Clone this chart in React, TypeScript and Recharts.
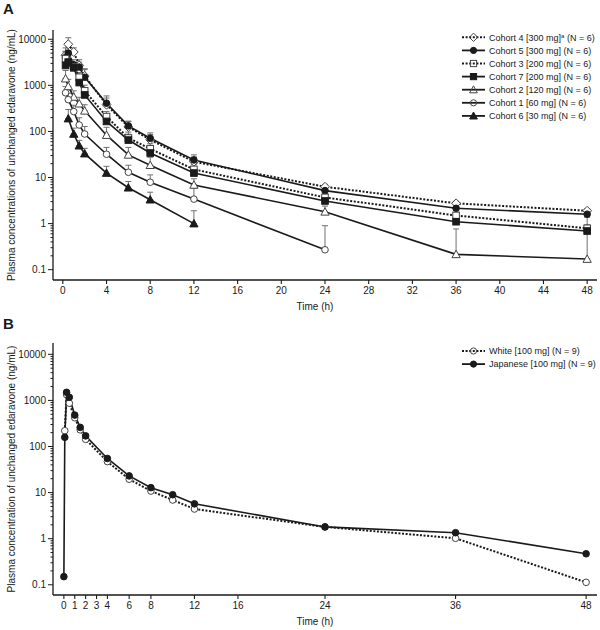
import React from 'react';
import { LineChart, Line, XAxis, YAxis, ErrorBar, Customized } from 'recharts';

const FONT = '"Liberation Sans", Arial, Helvetica, sans-serif';
const INK = '#1a1a1a';
const GREY = '#707070';

// ---- Panel A: dose cohorts, mean + upper SD (ng/mL)
const c4Times = [0.25, 0.5, 1, 1.5, 2, 4, 6, 8, 12, 24, 36, 48];
const c4Mean = [4500, 7800, 5300, 2700, 1600, 380, 125, 66, 22, 6.3, 2.75, 1.9];
const c4Sd = [2000, 3000, 1200, 900, 600, 150, 40, 20, 6, 0.8, 0.3, 0.2];

const c5Times = [0.25, 0.5, 1, 1.5, 2, 4, 6, 8, 12, 24, 36, 48];
const c5Mean = [4000, 5000, 2800, 2500, 1500, 410, 132, 71, 24, 5.2, 2.15, 1.6];
const c5Sd = [1500, 2000, 800, 700, 800, 180, 35, 22, 7, 1.5, 0.5, 0.4];

const c3Times = [0.25, 0.5, 1, 1.5, 2, 4, 6, 8, 12, 24, 36, 48];
const c3Mean = [3800, 3000, 2500, 1500, 760, 210, 72, 42, 15, 3.7, 1.5, 0.79];
const c3Sd = [1500, 1000, 600, 400, 250, 60, 25, 12, 4, 0.8, 0.4, 0.15];

const c7Times = [0.25, 0.5, 1, 1.5, 2, 4, 6, 8, 12, 24, 36, 48];
const c7Mean = [2700, 3200, 2400, 1150, 620, 165, 65, 34, 12.5, 3.1, 1.1, 0.69];
const c7Sd = [1000, 1200, 500, 400, 250, 60, 22, 10, 4, 0.7, 0.3, 0.2];

const c2Times = [0.25, 0.5, 1, 1.5, 2, 4, 6, 8, 12, 24, 36, 48];
const c2Mean = [1400, 950, 560, 400, 280, 83, 31, 18.5, 6.9, 1.8, 0.215, 0.17];
const c2Sd = [700, 400, 200, 150, 100, 40, 14, 9, 2.5, 0.6, 0.55, 1.2];

const c1Times = [0.25, 0.5, 1, 1.5, 2, 4, 6, 8, 12, 24];
const c1Mean = [690, 490, 270, 138, 88, 32, 13, 7.9, 3.4, 0.27];
const c1Sd = [250, 180, 100, 60, 40, 13, 5.5, 3.5, 2.5, 0.63];

const c6Times = [0.5, 1, 1.5, 2, 4, 6, 8, 12];
const c6Mean = [190, 88, 49, 33, 12.5, 6.0, 3.3, 1.0];
const c6Sd = [110, 30, 15, 10, 5, 2.2, 1.5, 0.9];

// ---- Panel B: ethnicity comparison (mean, ng/mL)
const whiteTimes = [0.083, 0.25, 0.5, 1, 1.5, 2, 4, 6, 8, 10, 12, 24, 36, 48];
const whiteMean = [220, 1330, 870, 420, 230, 143, 47, 19.5, 10.8, 6.9, 4.4, 1.8, 1.02, 0.113];
const japTimes = [0, 0.083, 0.25, 0.5, 1, 1.5, 2, 4, 6, 8, 10, 12, 24, 36, 48];
const japMean = [0.15, 158, 1500, 1170, 480, 260, 170, 55, 23, 12.8, 9.0, 5.7, 1.8, 1.35, 0.47];

const xTicksA = [0, 4, 8, 12, 16, 20, 24, 28, 32, 36, 40, 44, 48];
const xTicksB = [0, 1, 2, 3, 4, 6, 8, 12, 16, 24, 36, 48];
const yMajor = [0.1, 1, 10, 100, 1000, 10000];
const yMinor = yMajor
  .slice(0, -1)
  .flatMap((d) => [2, 3, 4, 5, 6, 7, 8, 9].map((m) => +(m * d).toPrecision(2)));
const yTicks = [...yMajor, ...yMinor].sort((a, b) => a - b);

const build = (ts: number[], vs: number[], sds?: number[]) =>
  ts.map((t, i) => ({ t, v: vs[i], err: sds ? [0, sds[i]] : undefined }));

type Shape = 'circle' | 'square' | 'triangle' | 'diamond';

interface SeriesDef {
  name: string;
  sup?: string;
  rest?: string;
  data: { t: number; v: number; err?: number[] }[];
  shape: Shape;
  open: boolean;
  dashed: boolean;
}

const seriesA: SeriesDef[] = [
  { name: 'Cohort 4 [300 mg]', sup: 'a', rest: ' (N = 6)', data: build(c4Times, c4Mean, c4Sd), shape: 'diamond', open: true, dashed: true },
  { name: 'Cohort 5 [300 mg] (N = 6)', data: build(c5Times, c5Mean, c5Sd), shape: 'circle', open: false, dashed: false },
  { name: 'Cohort 3 [200 mg] (N = 6)', data: build(c3Times, c3Mean, c3Sd), shape: 'square', open: true, dashed: true },
  { name: 'Cohort 7 [200 mg] (N = 6)', data: build(c7Times, c7Mean, c7Sd), shape: 'square', open: false, dashed: false },
  { name: 'Cohort 2 [120 mg] (N = 6)', data: build(c2Times, c2Mean, c2Sd), shape: 'triangle', open: true, dashed: false },
  { name: 'Cohort 1 [60 mg] (N = 6)', data: build(c1Times, c1Mean, c1Sd), shape: 'circle', open: true, dashed: false },
  { name: 'Cohort 6 [30 mg] (N = 6)', data: build(c6Times, c6Mean, c6Sd), shape: 'triangle', open: false, dashed: false },
];

const seriesB: SeriesDef[] = [
  { name: 'White [100 mg] (N = 9)', data: build(whiteTimes, whiteMean), shape: 'circle', open: true, dashed: true },
  { name: 'Japanese [100 mg] (N = 9)', data: build(japTimes, japMean), shape: 'circle', open: false, dashed: false },
];

function Marker({ cx, cy, shape, open, r = 3.3, hollow = false }: any) {
  if (cx == null || cy == null) return null;
  const fill = open ? (hollow ? 'none' : '#fff') : INK;
  const stroke = open ? '#444' : INK;
  const common = { fill, stroke, strokeWidth: 1 };
  if (shape === 'circle') return <circle cx={cx} cy={cy} r={r} {...common} />;
  if (shape === 'square') return <rect x={cx - r} y={cy - r} width={2 * r} height={2 * r} {...common} />;
  if (shape === 'triangle') {
    const h = r * 1.25;
    return <polygon points={`${cx},${cy - h} ${cx + h},${cy + h * 0.8} ${cx - h},${cy + h * 0.8}`} {...common} />;
  }
  const d = r * 1.35;
  return <polygon points={`${cx},${cy - d} ${cx + d},${cy} ${cx},${cy + d} ${cx - d},${cy}`} {...common} />;
}

const XTick = ({ x, y, payload }: any) => (
  <g>
    <line x1={x} x2={x} y1={y} y2={y + 4} stroke={INK} strokeWidth={1.1} />
    <text x={x} y={y + 14} textAnchor="middle" fontSize={10} fill={INK} fontFamily={FONT}>
      {payload.value}
    </text>
  </g>
);

const YTick = ({ x, y, payload }: any) => {
  const lg = Math.log10(payload.value);
  const major = Math.abs(lg - Math.round(lg)) < 1e-6;
  return (
    <g>
      <line x1={x - (major ? 5 : 2.5)} x2={x} y1={y} y2={y} stroke={INK} strokeWidth={1} />
      {major && (
        <text x={x - 7} y={y + 3.5} textAnchor="end" fontSize={10} fill={INK} fontFamily={FONT}>
          {payload.value}
        </text>
      )}
    </g>
  );
};

function LegendRows({ items, top }: { items: SeriesDef[]; top: number }) {
  return (
    <g fontFamily={FONT} fontSize={9} fill={INK}>
      {items.map((s, i) => {
        const y = top + i * 13.1;
        return (
          <g key={s.name}>
            <line
              x1={462}
              x2={485}
              y1={y}
              y2={y}
              stroke={INK}
              strokeWidth={s.dashed ? 2 : 1.8}
              strokeDasharray={s.dashed ? '2 1.6' : undefined}
            />
            <Marker cx={473.5} cy={y} shape={s.shape} open={s.open} hollow r={3.1} />
            <text x={489} y={y + 3.2}>
              {s.name}
              {s.sup && (
                <tspan dy={-3} fontSize={6}>
                  {s.sup}
                </tspan>
              )}
              {s.rest && <tspan dy={3}>{s.rest}</tspan>}
            </text>
          </g>
        );
      })}
    </g>
  );
}

function Panel({
  letter,
  yTitle,
  series,
  xTicks,
  xDomain,
  yDomain,
  top,
  errors,
}: {
  letter: string;
  yTitle: string;
  series: SeriesDef[];
  xTicks: number[];
  xDomain: number[];
  yDomain: number[];
  top: number;
  errors: boolean;
}) {
  const plotMid = (top + 280) / 2;
  return (
    <LineChart width={600} height={315} margin={{ top, right: 3, bottom: 0, left: 0 }}>
      <XAxis
        type="number"
        dataKey="t"
        domain={xDomain}
        allowDataOverflow
        ticks={xTicks}
        interval={0}
        tickLine={false}
        tickSize={0}
        tickMargin={0}
        tick={<XTick />}
        height={35}
        axisLine={{ stroke: INK, strokeWidth: 1.3 }}
      />
      <YAxis
        scale="log"
        domain={yDomain}
        allowDataOverflow
        ticks={yTicks}
        interval={0}
        width={53}
        tickLine={false}
        tickSize={0}
        tickMargin={0}
        tick={<YTick />}
        axisLine={{ stroke: INK, strokeWidth: 1.3 }}
      />
      {series.map((s, si) => (
        <Line
          key={s.name}
          data={s.data}
          dataKey="v"
          name={s.name}
          type="linear"
          stroke={INK}
          strokeWidth={s.dashed ? 2 : 1.6}
          strokeDasharray={s.dashed ? '2 1.6' : undefined}
          isAnimationActive={false}
          dot={(p: any) => (
            <Marker key={`${letter}-${si}-${p.index}`} cx={p.cx} cy={p.cy} shape={s.shape} open={s.open} />
          )}
          activeDot={false}
        >
          {errors && (
            <ErrorBar dataKey="err" direction="y" width={3} stroke={GREY} strokeWidth={1} isAnimationActive={false} />
          )}
        </Line>
      ))}
      <Customized
        component={() => (
          <g fontFamily={FONT} fill={INK}>
            <text x={3} y={14} fontSize={15} fontWeight="bold">
              {letter}
            </text>
            <text
              x={11}
              y={plotMid}
              fontSize={10}
              textAnchor="middle"
              dominantBaseline="central"
              transform={`rotate(-90 11 ${plotMid})`}
            >
              {yTitle}
            </text>
            <text x={315} y={310} fontSize={10} textAnchor="middle">
              Time (h)
            </text>
            <LegendRows items={series} top={letter === 'A' ? 37.3 : 36} />
          </g>
        )}
      />
    </LineChart>
  );
}

export default function App() {
  return (
    <div style={{ position: 'absolute', left: 0, top: 0, width: 600, height: 630, background: '#fff' }}>
      <Panel
        letter="A"
        yTitle="Plasma concentrations of unchanged edaravone (ng/mL)"
        series={seriesA}
        xTicks={xTicksA}
        xDomain={[-0.9, 48.9]}
        yDomain={[0.0597, 15900]}
        top={30}
        errors
      />
      <Panel
        letter="B"
        yTitle="Plasma concentration of unchanged edaravone (ng/mL)"
        series={seriesB}
        xTicks={xTicksB}
        xDomain={[-1, 49]}
        yDomain={[0.06, 17600]}
        top={28}
        errors={false}
      />
    </div>
  );
}
